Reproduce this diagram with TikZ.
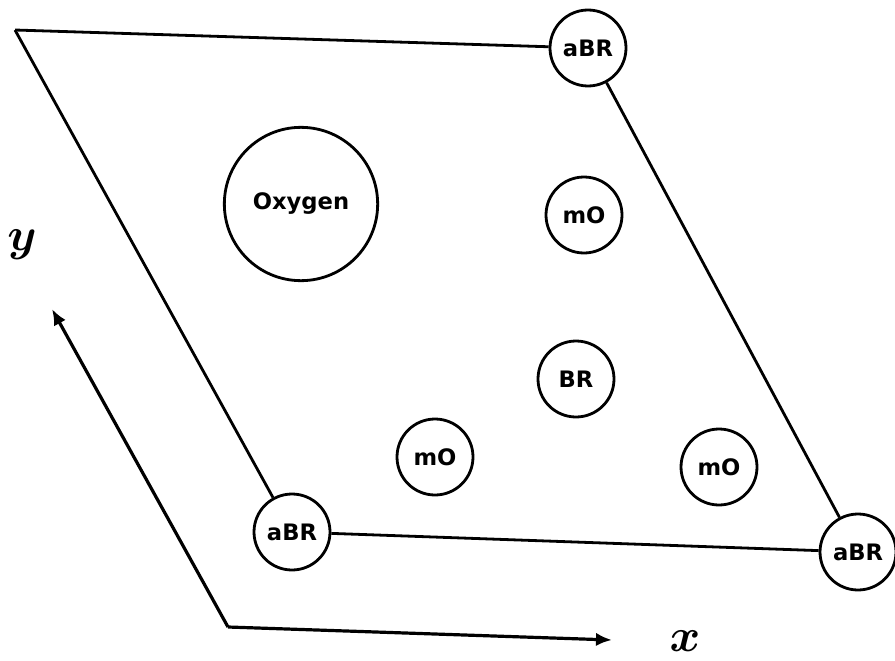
\documentclass[tikz,border=0pt]{standalone}
\usepackage{fontspec}
\newfontfamily\labelfont{DejaVu Sans}
\usetikzlibrary{arrows.meta}

\tikzset{
  site/.style={circle, draw, line width=2.1pt, minimum size=57pt, inner sep=0pt,
    font=\labelfont\bfseries\fontsize{17}{20}\selectfont},
  bigsite/.style={site, minimum size=115pt},
  edge/.style={line width=2.1pt},
  axis/.style={line width=2.4pt, -{Latex[length=12pt,width=10pt]}},
  axislabel/.style={font=\normalsize\boldmath, scale=3.5, inner sep=0pt}
}

\begin{document}
\begin{tikzpicture}[x=0.75pt, y=-0.75pt]
  \useasboundingbox (0,0) rectangle (895,660);

  % corner of the cell and the four corner sites
  \coordinate (tl) at (15,30);
  \node[site] (aTR) at (588,48)  {aBR};
  \node[site] (aBL) at (292,532) {aBR};
  \node[site] (aBRr) at (858,552) {aBR};

  % cell edges
  \draw[edge] (tl) -- (aTR);
  \draw[edge] (aTR) -- (aBRr);
  \draw[edge] (tl) -- (aBL);
  \draw[edge] (aBL) -- (aBRr);

  % interior sites
  \node[bigsite] (oxy) at (301,204) {Oxygen};
  \node[site] (mOa) at (584,215) {mO};
  \node[site] (brc) at (576,379) {BR};
  \node[site] (mOb) at (435,457) {mO};
  \node[site] (mOc) at (719,467) {mO};

  % axes
  \coordinate (origin) at (228,627);
  \coordinate (ytip) at (52,309);
  \coordinate (xtip) at (612,640);
  \draw[axis] (origin) -- (ytip);
  \draw[axis] (origin) -- (xtip);
  \node[axislabel] (ylab) at (22,245) {$y$};
  \node[axislabel] (xlab) at (685,641) {$x$};
\end{tikzpicture}
\end{document}
